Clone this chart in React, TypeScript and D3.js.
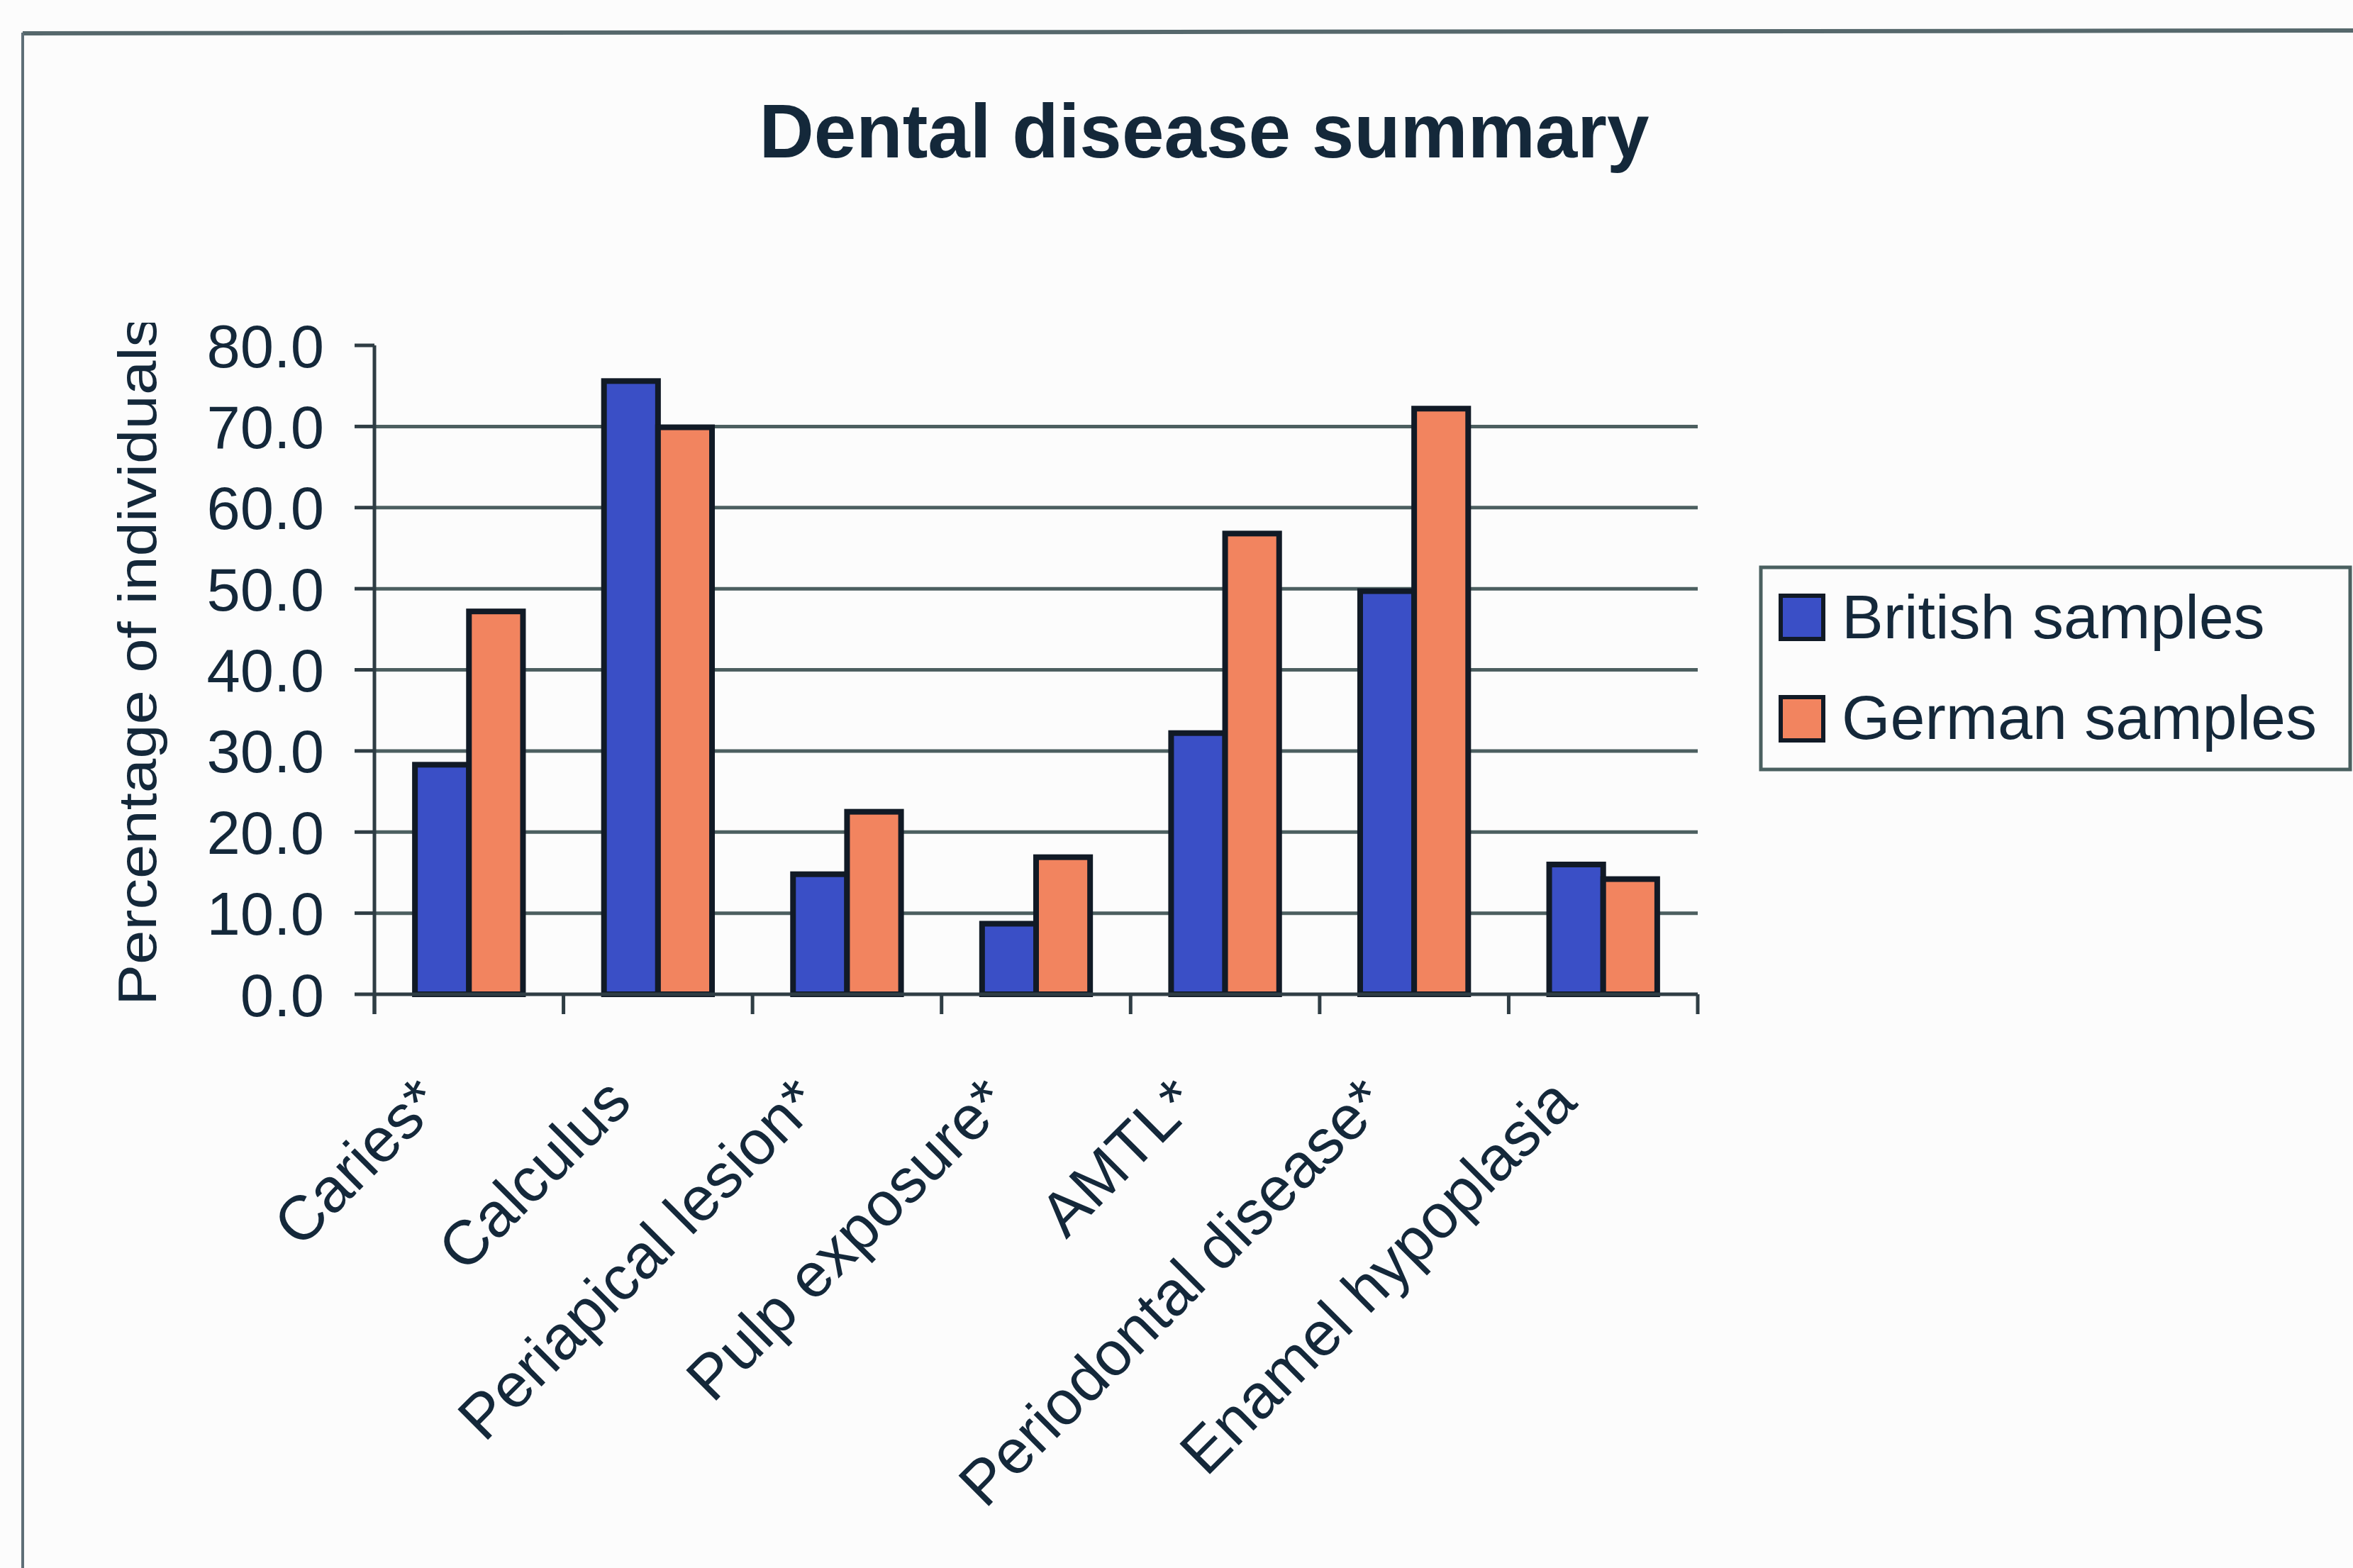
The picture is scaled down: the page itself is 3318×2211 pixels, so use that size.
import React from "react";
import * as d3 from "d3";

const categories = ["Caries*", "Calculus", "Periapical lesion*", "Pulp exposure*", "AMTL*", "Periodontal disease*", "Enamel hypoplasia"];
const seriesNames = ["British samples", "German samples"];
const british = [28.3, 75.6, 14.8, 8.7, 32.2, 49.7, 16.0];
const german = [47.2, 69.9, 22.5, 16.9, 56.8, 72.2, 14.2];
const yTicks = [0, 10, 20, 30, 40, 50, 60, 70, 80];
const colors = ["#3A4FC6", "#F2845F"];

const W = 3318;
const H = 2211;
const FONT = "'Liberation Sans', Arial, sans-serif";
const TXT = "#14283a";

export default function App() {
  const left = 528, right = 2394, top = 487, bottom = 1402;
  const x0 = d3.scaleBand<string>().domain(categories).range([left, right]).paddingInner(0).paddingOuter(0);
  const y = d3.scaleLinear().domain([0, 80]).range([bottom, top]);
  const barW = x0.bandwidth() / 3.5;
  const x1 = d3.scaleBand<string>().domain(seriesNames).range([0, barW * 2]);
  const values = [british, german];
  const tickXs = categories.map((c) => x0(c)!).concat([right]);

  return (
    <svg width={W} height={H} style={{ position: "absolute", left: 0, top: 0, background: "#fcfcfc" }} fontFamily={FONT}>
      <defs>
        <clipPath id="ylabclip">
          <rect x={0} y={455} width={500} height={1200} />
        </clipPath>
      </defs>
      <rect x={0} y={0} width={W} height={H} fill="#fcfcfc" />
      {/* chart frame */}
      <line x1={32} y1={47} x2={W} y2={43} stroke="#56686c" strokeWidth={6} />
      <line x1={32} y1={46} x2={32} y2={H} stroke="#5f6f78" strokeWidth={4} />

      {/* title */}
      <text x={1698} y={222} textAnchor="middle" fontSize={107} fontWeight="bold" fill={TXT}>
        Dental disease summary
      </text>

      {/* gridlines */}
      {yTicks.filter((t) => t > 0 && t < 80).map((t) => (
        <line key={"g" + t} x1={left} x2={right} y1={y(t)} y2={y(t)} stroke="#4c5f60" strokeWidth={5} />
      ))}

      {/* bars */}
      {categories.map((c, i) => {
        const gx = x0(c)! + (x0.bandwidth() - barW * 2) / 2;
        return seriesNames.map((s, k) => (
          <rect
            key={c + s}
            x={gx + x1(s)!}
            y={y(values[k][i])}
            width={x1.bandwidth()}
            height={y(0) - y(values[k][i])}
            fill={colors[k]}
            stroke="#111a26"
            strokeWidth={8}
          />
        ));
      })}

      {/* y axis */}
      <line x1={left} x2={left} y1={top} y2={bottom + 28} stroke="#2f3d44" strokeWidth={5} />
      {yTicks.map((t) => (
        <g key={"yt" + t}>
          <line x1={left - 28} x2={left} y1={y(t)} y2={y(t)} stroke="#2f3d44" strokeWidth={5} />
          <text x={457} y={y(t)} dy="0.36em" textAnchor="end" fontSize={85} fill={TXT}>
            {t.toFixed(1)}
          </text>
        </g>
      ))}

      {/* x axis */}
      <line x1={left} x2={right} y1={bottom} y2={bottom} stroke="#2f3d44" strokeWidth={5} />
      {tickXs.map((tx, i) => (
        <line key={"xt" + i} x1={tx} x2={tx} y1={bottom} y2={bottom + 28} stroke="#2f3d44" strokeWidth={5} />
      ))}
      {categories.map((c) => {
        const cx = x0(c)! + x0.bandwidth() / 2;
        return (
          <text
            key={"xl" + c}
            transform={`translate(${cx - 34},${bottom + 156}) rotate(-45)`}
            textAnchor="end"
            fontSize={88}
            fill={TXT}
          >
            {c}
          </text>
        );
      })}

      {/* y label */}
      <g clipPath="url(#ylabclip)">
        <text transform="translate(220,1418) rotate(-90) scale(1.16,1)" fontSize={75} fill={TXT}>
          Percentage of individuals
        </text>
      </g>

      {/* legend */}
      <rect x={2483} y={800} width={831} height={285} fill="none" stroke="#4a6060" strokeWidth={5} />
      {seriesNames.map((s, k) => (
        <g key={"lg" + s}>
          <rect x={2511} y={840 + k * 143} width={60} height={61} fill={colors[k]} stroke="#111a26" strokeWidth={6} />
          <text x={2597} y={900 + k * 142} fontSize={88} fill={TXT}>
            {s}
          </text>
        </g>
      ))}
    </svg>
  );
}
